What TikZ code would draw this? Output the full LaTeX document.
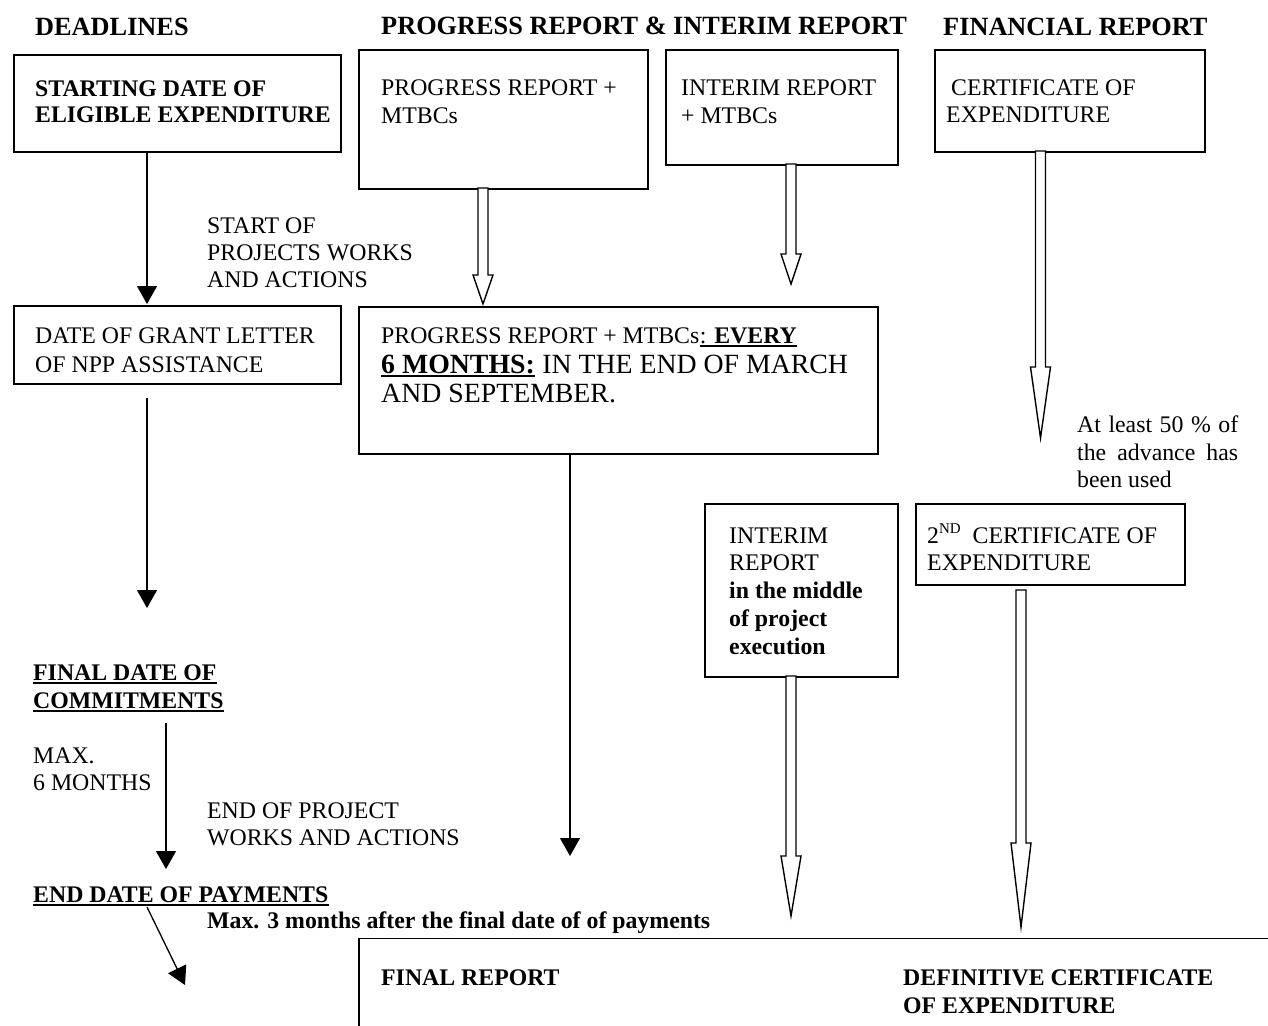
\documentclass[tikz,border=0pt]{standalone}
\usepackage{fontspec}
\setmainfont{Liberation Serif}
\usetikzlibrary{arrows.meta,calc}
\tikzset{
 bx/.style={draw,line width=1.8pt,inner sep=0pt,anchor=north west},
 tx/.style={inner sep=0pt,anchor=base west,font=\fontsize{23.8}{27.5}\selectfont},
 tb/.style={tx,font=\fontsize{23.8}{27.5}\selectfont\bfseries},
 hd/.style={tx,font=\fontsize{26.3}{30}\selectfont\bfseries},
 tl/.style={tx,font=\fontsize{27.8}{32}\selectfont},
 tlb/.style={tx,font=\fontsize{27.8}{32}\selectfont\bfseries},
 ln/.style={line width=1.3pt,-{Triangle[width=20pt,length=18pt]}},
 hol/.style={draw,line width=1.4pt,fill=white,line join=miter},
 ul/.style={line width=1.6pt},
}
\newcommand\harrow[3]{%
 \draw[hol] let \p1=(#1), \p2=(#2) in (\x1-5pt,\y1) -- (\x1-5pt,\y2+#3pt) -- (\x1-10pt,\y2+#3pt) -- (\x2,\y2) -- (\x1+10pt,\y2+#3pt) -- (\x1+5pt,\y2+#3pt) -- (\x1+5pt,\y1) -- cycle;}
\newcommand\ulnode[1]{\draw[ul] ($(#1.base west)+(0,3)$) -- ($(#1.base east)+(0,3)$);}
\begin{document}
\begin{tikzpicture}[x=1pt,y=-1pt]
\useasboundingbox (0,0) rectangle (1268,1025);
\fill[white] (0,0) rectangle (1268,1025);
\clip (0,0) rectangle (1268,1025);

% headings
\node[hd] (h1) at (35,36) {DEADLINES};
\node[hd] (h2) at (381,35) {PROGRESS REPORT \& INTERIM REPORT};
\node[hd] (h3) at (943,36) {FINANCIAL REPORT};

% boxes
\node[bx,minimum width=327pt,minimum height=97pt] (A) at (12.7,54) {};
\node[bx,minimum width=289pt,minimum height=139pt] (B) at (358,49) {};
\node[bx,minimum width=232pt,minimum height=115pt] (C) at (665,49) {};
\node[bx,minimum width=270pt,minimum height=102pt] (D) at (934,49) {};
\node[bx,minimum width=327pt,minimum height=78pt] (F) at (12.7,305) {};
\node[bx,minimum width=519pt,minimum height=147pt] (E) at (358,306) {};
\node[bx,minimum width=193pt,minimum height=173pt] (G) at (704,503) {};
\node[bx,minimum width=269pt,minimum height=81pt] (H) at (915,503) {};
\node[bx,minimum width=960pt,minimum height=150pt] (K) at (358,937.5) {};

% box texts
\node[tb] (a1) at (35,96) {STARTING DATE OF};
\node[tb] (a2) at (35,122) {ELIGIBLE EXPENDITURE};
\node[tx] (b1) at (381,95) {PROGRESS REPORT +};
\node[tx] (b2) at (381,123) {MTBCs};
\node[tx] (c1) at (681,95) {INTERIM REPORT};
\node[tx] (c2) at (681,123) {+ MTBCs};
\node[tx] (d1) at (951,95) {CERTIFICATE OF};
\node[tx] (d2) at (946,122) {EXPENDITURE};
\node[tx] (s1) at (207,233) {START OF};
\node[tx] (s2) at (207,260) {PROJECTS WORKS};
\node[tx] (s3) at (207,287) {AND ACTIONS};
\node[tx] (f1) at (35,343) {DATE OF GRANT LETTER};
\node[tx] (f2) at (35,372) {OF NPP ASSISTANCE};
\node[tx] (e1a) at (381,343) {PROGRESS REPORT + MTBCs};
\node[tx] (e1b) at (e1a.base east) {: \textbf{EVERY}};
\ulnode{e1b}
\node[tlb] (e2a) at (381,373) {6 MONTHS:};
\ulnode{e2a}
\node[tl] (e2b) at ($(e2a.base east)+(7,0)$) {IN THE END OF MARCH};
\node[tl] (e3) at (381,402) {AND SEPTEMBER.};
\node[tx] (l1) at (1077,432) {\makebox[161pt][l]{At\hfill least\hfill 50\hfill \%\hfill of}};
\node[tx] (l2) at (1077,460) {\makebox[161pt][l]{the\hfill advance\hfill has}};
\node[tx] (l3) at (1077,487) {been used};
\node[tx] (g1) at (729,543) {INTERIM};
\node[tx] (g2) at (729,570) {REPORT};
\node[tb] (g3) at (729,598) {in the middle};
\node[tb] (g4) at (729,626) {of project};
\node[tb] (g5) at (729,654) {execution};
\node[tx] (k1) at (927,543) {2\raisebox{0.42em}{\fontsize{15}{15}\selectfont ND}\hspace{0.25em} CERTIFICATE OF};
\node[tx] (k2) at (927,570) {EXPENDITURE};
\node[tb] (m1) at (33,680) {FINAL DATE OF};
\node[tb] (m2) at (33,708) {COMMITMENTS};
\ulnode{m1}
\ulnode{m2}
\node[tx] (x1) at (33,763) {MAX.};
\node[tx] (x2) at (33,790) {6 MONTHS};
\node[tx] (p1) at (207,818) {END OF PROJECT};
\node[tx] (p2) at (207,845) {WORKS AND ACTIONS};
\node[tb] (q1) at (33,902) {END DATE OF PAYMENTS};
\ulnode{q1}
\node[tb] (r1) at (207,928) {Max. 3 months after the final date of of payments};
\node[tb] (fr) at (381,985) {FINAL REPORT};
\node[tb] (dc1) at (903,985) {DEFINITIVE CERTIFICATE};
\node[tb] (dc2) at (903,1013) {OF EXPENDITURE};

% connector end points
\coordinate (aS) at (147,151);
\coordinate (fN) at (147,304);
\coordinate (fS) at (147,398);
\coordinate (fT) at (147,608);
\coordinate (mS) at (166,723);
\coordinate (mT) at (166,869);
\coordinate (eS) at (570,453);
\coordinate (eT) at (570,856);
\coordinate (qS) at (147,907);
\coordinate (qT) at (185,985);

\draw[ln] (aS) -- (fN);
\draw[ln] (fS) -- (fT);
\draw[ln] (mS) -- (mT);
\draw[ln] (eS) -- (eT);
\draw[ln] (qS) -- (qT);

% hollow arrows
\coordinate (bS) at (483,188);  \coordinate (bT) at (483,304);
\coordinate (cS) at (791,164);  \coordinate (cT) at (791,284);
\coordinate (dS) at (1040.5,151); \coordinate (dT) at (1040.5,438);
\coordinate (gS) at (791,676);  \coordinate (gT) at (791,916);
\coordinate (kS) at (1021,590); \coordinate (kT) at (1021,927);
\harrow{bS}{bT}{29}
\harrow{cS}{cT}{30}
\harrow{dS}{dT}{71}
\harrow{gS}{gT}{60}
\harrow{kS}{kT}{84}
\end{tikzpicture}
\end{document}
